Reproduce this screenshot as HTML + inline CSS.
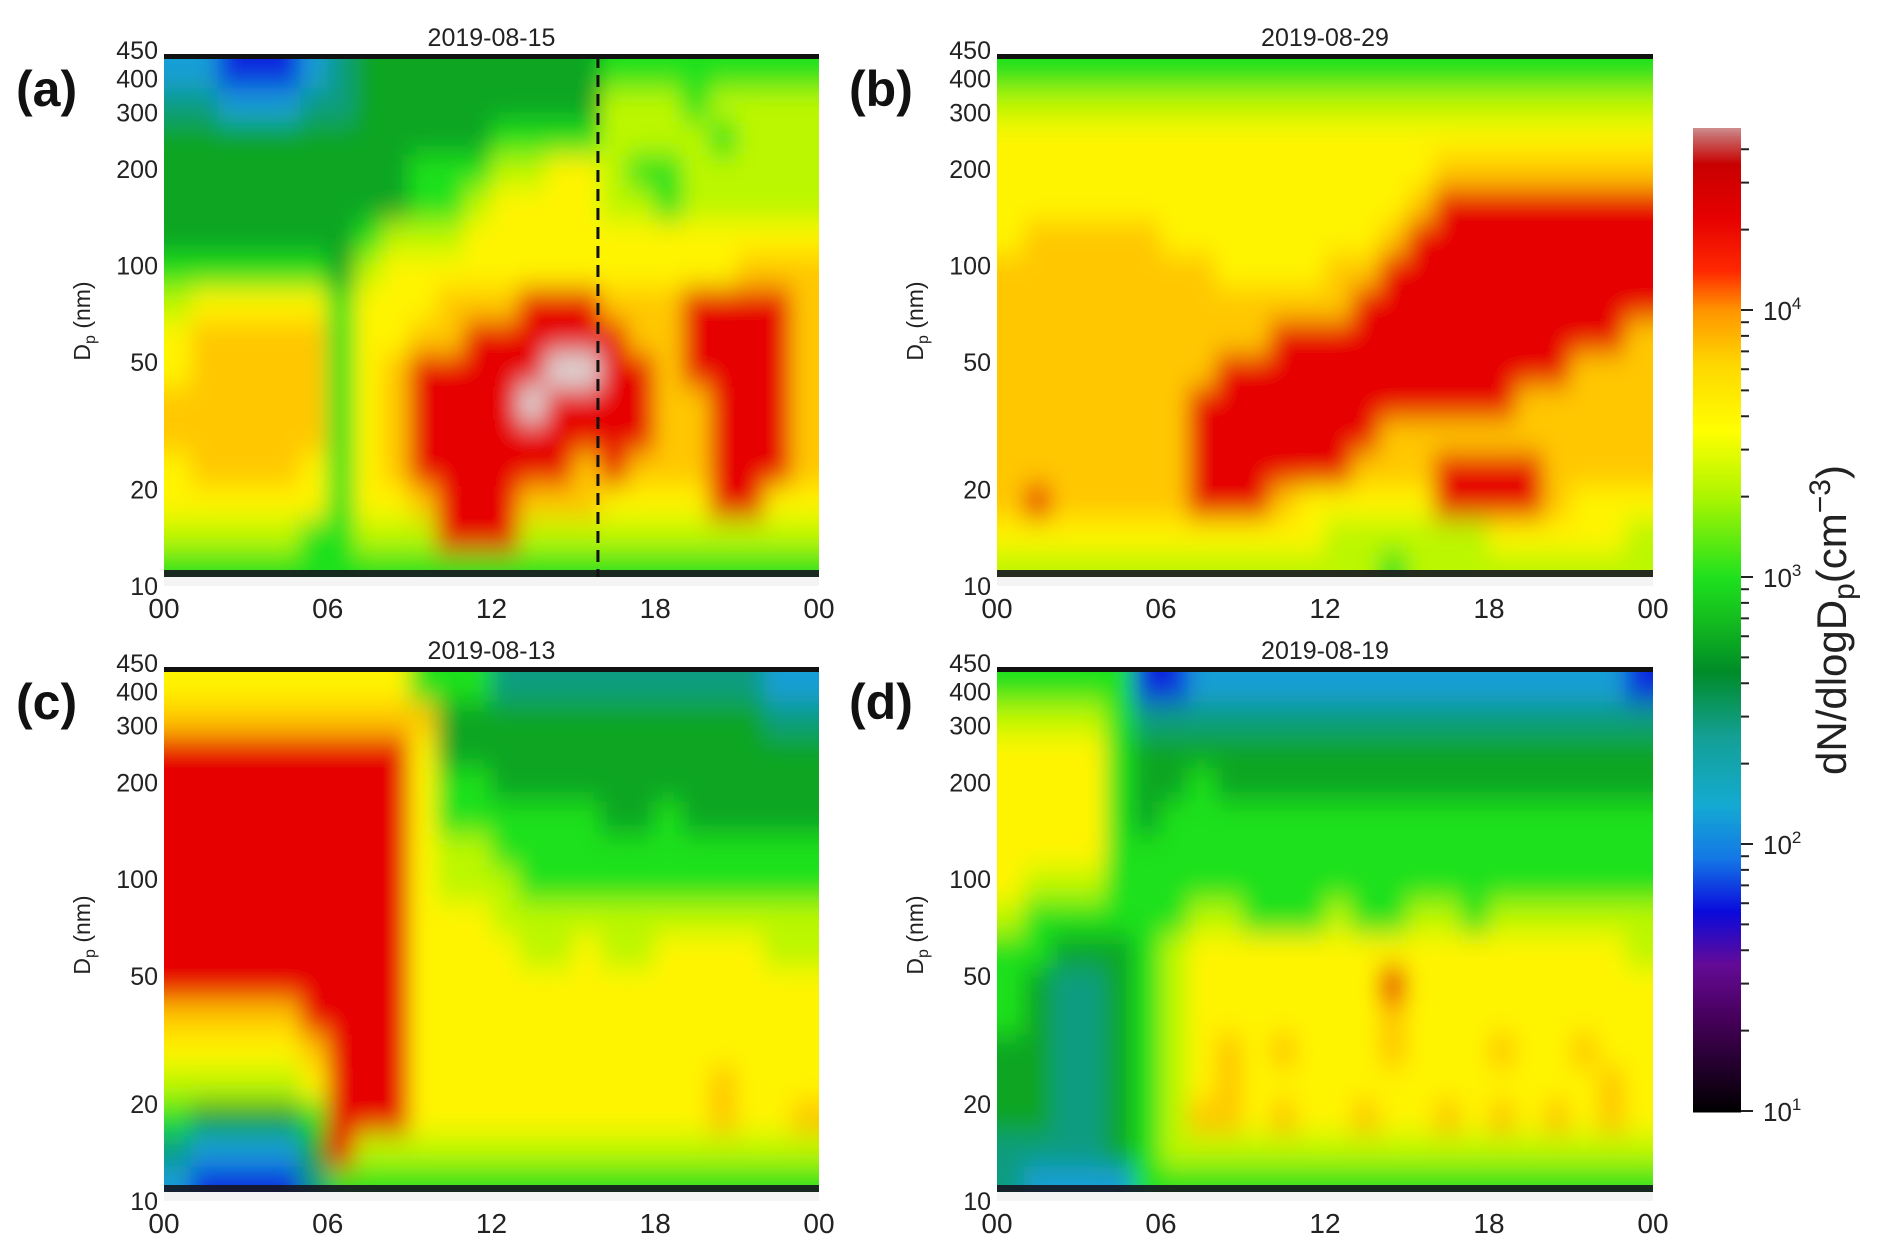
<!DOCTYPE html>
<html><head><meta charset="utf-8">
<style>
html,body{margin:0;padding:0;background:#fff;}
svg{display:block;font-family:"Liberation Sans",sans-serif;}
</style></head>
<body>
<svg id="fig" width="1892" height="1255" viewBox="0 0 1892 1255">
<defs>
<filter id="blur" x="-5%" y="-5%" width="110%" height="110%"><feGaussianBlur stdDeviation="11 14"/></filter>
</defs>
</svg>
<script>
// ---------- data ----------
const hours = [0,1,2,3,4,5,6,7,8,9,10,11,12,13,14,15,16,17,18,19,20,21,22,23];
const sizeTicks = [10,20,50,100,200,300,400,450];
const timeTicks = ["00","06","12","18","00"];
const cbTicks = [1,2,3,4];
const levelCodes = ['0','1','2','3','4','5','6','7','8','9','w'];
const levelLogs  = [1.0,1.8,2.1,2.45,2.75,3.0,3.35,3.62,3.85,4.35,4.75];
const titles = ["2019-08-15","2019-08-29","2019-08-13","2019-08-19"];
const panelLetters = ["(a)","(b)","(c)","(d)"];
// rows: top (≈450 nm) to bottom (≈10 nm), 24 hourly columns
const gridA = [
"221112344444444455555555","332223344444444466656666","444444444444555566665666",
"444444444555667765566666","444444444556777766566666","444444456667777777777777",
"555555467777777777777888","677777577788899988899998","788888577889999998899998",
"78888857899999ww99899998","8888885789999w9999889998","888888578999999999889998",
"788887578999999898889998","777777577899988877779977","666665566699966666666666",
"555555555555555555555555"];
const gridB = [
"555555555555555555555555","666666666666666666666666","777777777777777777777777",
"777777777777777788888888","777777777777777899999999","788888777777778999999999",
"888888887777889999999999","888888888888899999999999","888888888899999999999998",
"888888889999999999999888","888888899999999999988888","888888899999998888888888",
"888888899999988899998888","898888899987777799998777","777777777777666666777776",
"666666666666665666666666"];
const gridC = [
"777777777555333333333322","888888888844444444444433","999999999744444444444444",
"999999999755444444444444","999999999755555544544444","999999999766555555555555",
"999999999766655555555555","999999999777666666666666","999999999777766766777766",
"999999999777777777777777","888889999777777777777777","777778999777777777777777",
"666667999777777777778777","544445999777777777778778","322224966666666666666666",
"211113555555555555555555"];
const gridD = [
"555551122222222222222221","666653333333333333333333","777754444444444444444444",
"777754454444444444444444","777754555555555555555555","777755555555555555555555",
"766655555555555555555555","655555566555655665666666","554445677777777777777776",
"543345677777779777777777","543345677777778777777777","443345678787778777877877",
"443345678777777777777787","443345688787787787878787","333345666666666666666666",
"322225555555555555555555"];
const grids = [gridA,gridB,gridC,gridD];
const dashedHour = 15.9;

// ---------- layout ----------
const panels = [
 {x:164,y:56,w:655,h:530},{x:997,y:56,w:656,h:530},
 {x:164,y:669,w:655,h:532},{x:997,y:669,w:656,h:532}];
const LMIN=1, LMAX=Math.log10(450);
const cb = {x:1693,w:48,yBottom:1111,perDec:267,top:128};

const stops=[[1.0,[0,0,0]],[1.35,[70,0,90]],[1.55,[100,10,150]],[1.75,[10,10,220]],[1.95,[20,120,230]],
[2.15,[20,170,210]],[2.4,[20,160,150]],[2.65,[0,140,40]],[2.85,[20,190,30]],[3.0,[30,225,30]],
[3.3,[170,245,0]],[3.55,[255,255,0]],[3.8,[255,215,0]],[4.0,[255,150,0]],[4.15,[255,40,0]],
[4.35,[230,0,0]],[4.55,[200,0,0]],[4.65,[200,100,100]],[4.75,[220,220,220]]];
function cmap(v){
 if(v<=stops[0][0])return stops[0][1];
 for(let i=1;i<stops.length;i++){if(v<=stops[i][0]){const a=stops[i-1],b=stops[i],t=(v-a[0])/(b[0]-a[0]);
 return a[1].map((c,k)=>Math.round(c+(b[1][k]-c)*t));}}
 return stops[stops.length-1][1];}
const rgb=c=>`rgb(${c[0]},${c[1]},${c[2]})`;

const NS="http://www.w3.org/2000/svg";
const svg=document.getElementById('fig');
function mk(tag,attrs,parent){const e=document.createElementNS(NS,tag);for(const k in attrs)e.setAttribute(k,attrs[k]);(parent||svg).appendChild(e);return e;}
const defs=svg.querySelector('defs');

panels.forEach((p,pi)=>{
 const g=mk('g',{});
 
 
 const xScale=h=>p.x+h/24*p.w;
 const yScale=d=>p.y+p.h-(Math.log10(d)-LMIN)/(LMAX-LMIN)*p.h;
 const grid=grids[pi];
 const nR=grid.length;
 const cp=mk('clipPath',{id:'clip'+pi},defs);
 mk('rect',{x:p.x,y:p.y,width:p.w,height:p.h},cp);
 const clipG=mk('g',{'clip-path':'url(#clip'+pi+')'},g);
 const hm=mk('g',{filter:'url(#blur)'},clipG);
 
 
 const rowH=p.h/nR;
 for(let r=-2;r<=nR+1;r++){
  const rr=Math.min(nR-1,Math.max(0,r));
  for(let c=-2;c<=hours.length+1;c++){
   const cc=Math.min(hours.length-1,Math.max(0,c));
   const code=grid[rr][cc];
   const v=levelLogs[levelCodes.indexOf(code)];
   const cell=mk('rect',{x:xScale(c)-0.5,y:p.y+r*rowH-0.5,width:p.w/24+1,height:rowH+1,fill:rgb(cmap(v))},hm);
   
   
  }
 }
 const tb=mk('rect',{x:p.x,y:p.y-2,width:p.w,height:5,fill:'#111'},g);
 
 
 const bs=mk('rect',{x:p.x,y:p.y+p.h-16,width:p.w,height:7,fill:'#151520',opacity:0.9},g);
 
 
 const wb=mk('rect',{x:p.x,y:p.y+p.h-9,width:p.w,height:9,fill:'#f4f4f4'},g);
 
 
 if(pi===0){
  const dl=mk('line',{x1:xScale(dashedHour),x2:xScale(dashedHour),y1:p.y,y2:p.y+p.h-9,stroke:'#111','stroke-width':3,'stroke-dasharray':'12 7'},g);
  
  
 }
 sizeTicks.forEach(d=>{
  const t=mk('text',{x:p.x-6,y:yScale(d)+(d===450?3:d===400?15:9),'text-anchor':'end','font-size':25,fill:'#222'},g);
  t.textContent=d;
  
  
 });
 timeTicks.forEach((s,i)=>{
  const t=mk('text',{x:xScale(i*6),y:p.y+p.h+32,'text-anchor':'middle','font-size':28,fill:'#222'},g);
  t.textContent=s;
  
  
 });
 const tt=mk('text',{x:p.x+p.w/2,y:p.y-10,'text-anchor':'middle','font-size':25,fill:'#222'},g);
 tt.textContent=titles[pi];
 
 
 const yt=mk('text',{transform:`translate(${p.x-74},${p.y+p.h/2}) rotate(-90)`,'text-anchor':'middle','font-size':23,fill:'#222'},g);
 yt.innerHTML='D<tspan font-size="16" dy="5">p</tspan><tspan dy="-5"> (nm)</tspan>';
 
 
 const pl=mk('text',{x:p.x-148,y:p.y+50,'font-size':50,'font-weight':'bold',fill:'#111'},g);
 pl.textContent=panelLetters[pi];
 
 
});

// ---------- colorbar ----------
const cbg=mk('g',{});


const cbY=v=>cb.yBottom-(v-1)*cb.perDec;
const cbMax=1+(cb.yBottom-cb.top)/cb.perDec;
for(let y=cb.top;y<cb.yBottom;y+=2){
 const v=1+(cb.yBottom-y)/cb.perDec;
 const s=mk('rect',{x:cb.x,y:y,width:cb.w,height:2.5,fill:rgb(cmap(v))},cbg);
 
 
}
for(let d=1;d<=4;d++){
 for(let m=1;m<=9;m++){
  const v=d+Math.log10(m);
  if(v>cbMax)break;
  const y=cbY(v);
  const tk=mk('line',{x1:cb.x+cb.w,x2:cb.x+cb.w+(m===1?12:8),y1:y,y2:y,stroke:'#222','stroke-width':2},cbg);
  
  
 }
}
cbTicks.forEach(d=>{
 const t=mk('text',{x:cb.x+cb.w+22,y:cbY(d)+10,'font-size':26,fill:'#222'},cbg);
 t.innerHTML='10<tspan font-size="17" dy="-11">'+d+'</tspan>';
 
 
});
const cbl=mk('text',{transform:'translate(1846,620) rotate(-90)','text-anchor':'middle','font-size':42,fill:'#222'},cbg);
cbl.innerHTML='dN/dlogD<tspan font-size="30" dy="8">p</tspan><tspan dy="-8">(cm</tspan><tspan font-size="30" dy="-16">−3</tspan><tspan dy="16">)</tspan>';


</script>
</body></html>
